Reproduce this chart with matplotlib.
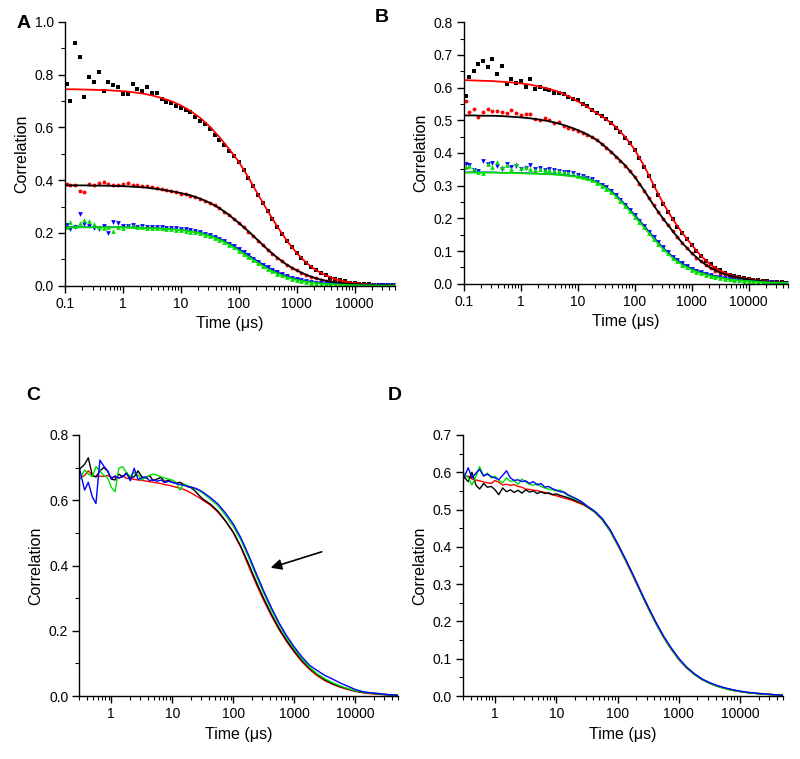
import matplotlib
matplotlib.use('Agg')
import matplotlib.pyplot as plt
from matplotlib.ticker import (FixedLocator, FixedFormatter, LogLocator,
                               MultipleLocator, FormatStrFormatter, NullFormatter)

plt.rcParams['font.family'] = ['Liberation Sans', 'DejaVu Sans']

# ---------------- shared time grids ----------------
t_ab = [0.11, 0.121, 0.147, 0.178, 0.215, 0.261, 0.316, 0.383, 0.464, 0.562, 0.681, 0.825,
        1.0, 1.21, 1.47, 1.78, 2.15, 2.61, 3.16, 3.83, 4.64, 5.62, 6.81, 8.25,
        10, 12.1, 14.7, 17.8, 21.5, 26.1, 31.6, 38.3, 46.4, 56.2, 68.1, 82.5,
        100, 121, 147, 178, 215, 261, 316, 383, 464, 562, 681, 825,
        1000, 1210, 1470, 1780, 2150, 2610, 3160, 3830, 4640, 5620, 6810, 8250,
        10000, 12100, 14700, 17800, 21500, 26100, 31600, 38300, 46400]

t_fit = [0.1, 0.147, 0.215, 0.316, 0.464, 0.681,
         1, 1.47, 2.15, 3.16, 4.64, 6.81,
         10, 14.7, 21.5, 31.6, 46.4, 68.1,
         100, 147, 215, 316, 464, 681,
         1000, 1470, 2150, 3160, 4640, 6810,
         10000, 14700, 21500, 31600, 50000]

t_cd = [0.3, 0.365, 0.42, 0.49, 0.56, 0.65, 0.75, 0.87,
        1.0, 1.15, 1.33, 1.54, 1.78, 2.05, 2.37, 2.74,
        3.16, 3.65, 4.22, 4.87, 5.62, 6.49, 7.5, 8.66,
        10, 11.5, 13.3, 15.4, 17.8, 20.5, 23.7, 27.4,
        31.6, 42.2, 56.2, 75, 100, 133, 178, 237,
        316, 422, 562, 750, 1000, 1330, 1780, 2370,
        3160, 4220, 5620, 7500, 10000, 13300, 17800, 23700,
        31600, 42200, 50000]

# ---------------- panel A data ----------------
a_black = [0.763, 0.700, 0.920, 0.865, 0.714, 0.790, 0.773, 0.808, 0.737, 0.773, 0.760, 0.754,
           0.726, 0.728, 0.763, 0.744, 0.738, 0.753, 0.729, 0.729, 0.707, 0.697, 0.692, 0.680,
           0.675, 0.665, 0.657, 0.640, 0.625, 0.612, 0.595, 0.572, 0.553, 0.532, 0.510, 0.490,
           0.467, 0.440, 0.408, 0.378, 0.344, 0.312, 0.282, 0.252, 0.223, 0.196, 0.169, 0.145,
           0.124, 0.104, 0.087, 0.072, 0.059, 0.048, 0.039, 0.031, 0.025, 0.020, 0.016, 0.012,
           0.010, 0.008, 0.006, 0.005, 0.004, 0.003, 0.004, 0.002, 0.003]
a_red = [0.385, 0.383, 0.381, 0.359, 0.355, 0.386, 0.383, 0.388, 0.392, 0.386, 0.383, 0.381,
         0.385, 0.388, 0.383, 0.380, 0.378, 0.377, 0.372, 0.371, 0.366, 0.362, 0.358, 0.354,
         0.349, 0.346, 0.341, 0.336, 0.329, 0.322, 0.313, 0.304, 0.293, 0.281, 0.267, 0.253,
         0.237, 0.222, 0.205, 0.188, 0.171, 0.153, 0.136, 0.120, 0.105, 0.092, 0.079, 0.068,
         0.058, 0.049, 0.041, 0.034, 0.028, 0.023, 0.019, 0.016, 0.013, 0.011, 0.009, 0.007,
         0.006, 0.005, 0.004, 0.003, 0.003, 0.002, 0.002, 0.001, 0.002]
a_blue = [0.230, 0.213, 0.222, 0.272, 0.232, 0.228, 0.218, 0.214, 0.226, 0.198, 0.242, 0.238,
          0.226, 0.225, 0.229, 0.222, 0.225, 0.221, 0.224, 0.222, 0.224, 0.219, 0.220, 0.217,
          0.216, 0.213, 0.210, 0.206, 0.202, 0.197, 0.191, 0.185, 0.177, 0.169, 0.159, 0.149,
          0.138, 0.127, 0.115, 0.103, 0.091, 0.080, 0.069, 0.060, 0.051, 0.043, 0.036, 0.030,
          0.025, 0.021, 0.017, 0.014, 0.012, 0.010, 0.008, 0.007, 0.006, 0.005, 0.004, 0.004,
          0.003, 0.003, 0.002, 0.002, 0.001, 0.002, 0.001, 0.002, 0.003]
a_green = [0.222, 0.242, 0.228, 0.236, 0.249, 0.245, 0.232, 0.222, 0.218, 0.224, 0.208, 0.222,
           0.219, 0.226, 0.228, 0.223, 0.221, 0.219, 0.220, 0.218, 0.217, 0.216, 0.214, 0.212,
           0.210, 0.208, 0.205, 0.202, 0.198, 0.193, 0.188, 0.181, 0.174, 0.165, 0.155, 0.145,
           0.133, 0.121, 0.109, 0.097, 0.085, 0.074, 0.064, 0.055, 0.046, 0.039, 0.032, 0.027,
           0.022, 0.018, 0.015, 0.012, 0.010, 0.008, 0.007, 0.005, 0.004, 0.004, 0.003, 0.002,
           0.002, 0.002, 0.001, 0.001, 0.001, 0.001, 0.000, 0.001, 0.001]
a_fit_upper = [0.744, 0.744, 0.743, 0.742, 0.741, 0.739,
               0.737, 0.733, 0.728, 0.721, 0.711, 0.699,
               0.683, 0.662, 0.636, 0.603, 0.563, 0.518,
               0.470, 0.410, 0.346, 0.283, 0.224, 0.170,
               0.124, 0.087, 0.059, 0.039, 0.025, 0.016,
               0.010, 0.006, 0.004, 0.002, 0.001]
a_fit_middle = [0.380, 0.380, 0.380, 0.379, 0.379, 0.378,
                0.377, 0.375, 0.373, 0.369, 0.364, 0.358,
                0.351, 0.342, 0.330, 0.314, 0.294, 0.268,
                0.238, 0.206, 0.172, 0.137, 0.106, 0.079,
                0.058, 0.041, 0.028, 0.019, 0.013, 0.009,
                0.006, 0.004, 0.003, 0.002, 0.001]
a_fit_green = [0.221, 0.221, 0.221, 0.221, 0.221, 0.221,
               0.221, 0.220, 0.219, 0.218, 0.216, 0.214,
               0.211, 0.206, 0.199, 0.189, 0.175, 0.156,
               0.134, 0.110, 0.086, 0.064, 0.046, 0.032,
               0.022, 0.015, 0.010, 0.007, 0.005, 0.003,
               0.002, 0.001, 0.001, 0.000, 0.000]
a_fit_blue = [0.222, 0.222, 0.222, 0.222, 0.222, 0.222,
              0.222, 0.221, 0.220, 0.219, 0.217, 0.215,
              0.212, 0.207, 0.201, 0.191, 0.178, 0.160,
              0.139, 0.116, 0.092, 0.070, 0.051, 0.036,
              0.025, 0.017, 0.012, 0.008, 0.006, 0.004,
              0.003, 0.002, 0.001, 0.001, 0.000]

# ---------------- panel B data ----------------
b_black = [0.574, 0.632, 0.652, 0.672, 0.682, 0.662, 0.687, 0.641, 0.666, 0.611, 0.626, 0.613,
           0.620, 0.603, 0.626, 0.597, 0.603, 0.595, 0.592, 0.585, 0.583, 0.580, 0.572, 0.565,
           0.561, 0.550, 0.543, 0.532, 0.522, 0.513, 0.503, 0.493, 0.478, 0.464, 0.447, 0.430,
           0.408, 0.385, 0.358, 0.330, 0.300, 0.272, 0.245, 0.220, 0.197, 0.175, 0.155, 0.136,
           0.118, 0.101, 0.085, 0.071, 0.059, 0.049, 0.041, 0.034, 0.028, 0.024, 0.020, 0.017,
           0.015, 0.012, 0.010, 0.009, 0.007, 0.006, 0.004, 0.005, 0.003]
b_red = [0.560, 0.525, 0.535, 0.510, 0.525, 0.535, 0.528, 0.530, 0.525, 0.523, 0.532, 0.523,
         0.517, 0.520, 0.520, 0.505, 0.500, 0.507, 0.500, 0.492, 0.495, 0.484, 0.478, 0.472,
         0.466, 0.462, 0.455, 0.448, 0.439, 0.428, 0.416, 0.404, 0.389, 0.376, 0.361, 0.345,
         0.326, 0.306, 0.284, 0.262, 0.240, 0.219, 0.198, 0.179, 0.160, 0.142, 0.125, 0.109,
         0.094, 0.080, 0.068, 0.057, 0.048, 0.040, 0.034, 0.029, 0.025, 0.021, 0.018, 0.015,
         0.013, 0.011, 0.009, 0.008, 0.006, 0.005, 0.004, 0.004, 0.003]
b_blue = [0.366, 0.362, 0.349, 0.346, 0.377, 0.366, 0.368, 0.360, 0.350, 0.365, 0.357, 0.360,
          0.352, 0.355, 0.362, 0.351, 0.353, 0.349, 0.350, 0.347, 0.346, 0.343, 0.341, 0.338,
          0.334, 0.330, 0.325, 0.319, 0.312, 0.303, 0.295, 0.284, 0.271, 0.257, 0.242, 0.226,
          0.209, 0.192, 0.176, 0.159, 0.143, 0.127, 0.111, 0.097, 0.083, 0.072, 0.062, 0.053,
          0.046, 0.040, 0.035, 0.030, 0.026, 0.022, 0.019, 0.016, 0.014, 0.012, 0.010, 0.009,
          0.008, 0.007, 0.006, 0.005, 0.004, 0.004, 0.003, 0.003, 0.002]
b_green = [0.358, 0.360, 0.352, 0.343, 0.338, 0.365, 0.356, 0.372, 0.358, 0.362, 0.352, 0.365,
           0.354, 0.358, 0.352, 0.349, 0.350, 0.348, 0.347, 0.345, 0.344, 0.341, 0.338, 0.335,
           0.331, 0.327, 0.322, 0.316, 0.309, 0.300, 0.291, 0.280, 0.267, 0.253, 0.238, 0.222,
           0.205, 0.188, 0.172, 0.155, 0.138, 0.122, 0.107, 0.093, 0.080, 0.068, 0.058, 0.050,
           0.043, 0.037, 0.032, 0.027, 0.024, 0.020, 0.018, 0.015, 0.013, 0.011, 0.010, 0.009,
           0.008, 0.007, 0.006, 0.005, 0.004, 0.003, 0.003, 0.002, 0.002]
b_fit_upper = [0.623, 0.622, 0.621, 0.620, 0.618, 0.616,
               0.613, 0.609, 0.603, 0.596, 0.587, 0.574,
               0.558, 0.541, 0.522, 0.503, 0.480, 0.449,
               0.410, 0.360, 0.302, 0.246, 0.198, 0.156,
               0.119, 0.085, 0.058, 0.040, 0.028, 0.020,
               0.015, 0.010, 0.007, 0.004, 0.003]
b_fit_middle = [0.515, 0.515, 0.514, 0.514, 0.513, 0.511,
                0.509, 0.506, 0.502, 0.497, 0.490, 0.481,
                0.470, 0.457, 0.440, 0.417, 0.390, 0.362,
                0.327, 0.285, 0.240, 0.199, 0.161, 0.125,
                0.094, 0.068, 0.048, 0.034, 0.025, 0.018,
                0.013, 0.009, 0.006, 0.004, 0.003]
b_fit_green = [0.340, 0.340, 0.340, 0.340, 0.339, 0.339,
               0.338, 0.337, 0.336, 0.335, 0.333, 0.330,
               0.327, 0.321, 0.310, 0.293, 0.268, 0.238,
               0.206, 0.172, 0.138, 0.106, 0.079, 0.058,
               0.043, 0.032, 0.024, 0.018, 0.013, 0.010,
               0.008, 0.006, 0.004, 0.003, 0.002]
b_fit_blue = [0.341, 0.341, 0.341, 0.341, 0.340, 0.340,
              0.339, 0.338, 0.337, 0.336, 0.334, 0.331,
              0.328, 0.322, 0.312, 0.296, 0.272, 0.243,
              0.211, 0.177, 0.143, 0.110, 0.083, 0.062,
              0.046, 0.035, 0.026, 0.020, 0.015, 0.011,
              0.009, 0.007, 0.005, 0.003, 0.002]

# ---------------- panel C data ----------------
c_red = [0.668, 0.676, 0.690, 0.676, 0.672, 0.674, 0.673, 0.676,
         0.671, 0.670, 0.668, 0.675, 0.667, 0.666, 0.664, 0.662,
         0.661, 0.659, 0.657, 0.655, 0.653, 0.651, 0.648, 0.646,
         0.643, 0.640, 0.637, 0.633, 0.628, 0.622, 0.615, 0.608,
         0.600, 0.585, 0.563, 0.535, 0.500, 0.455, 0.398, 0.343,
         0.292, 0.245, 0.203, 0.166, 0.134, 0.105, 0.081, 0.062,
         0.047, 0.036, 0.027, 0.020, 0.014, 0.010, 0.007, 0.005,
         0.004, 0.003, 0.002]
c_black = [0.695, 0.710, 0.730, 0.675, 0.672, 0.690, 0.700, 0.690,
           0.665, 0.662, 0.680, 0.672, 0.685, 0.668, 0.672, 0.690,
           0.672, 0.668, 0.676, 0.660, 0.665, 0.670, 0.657, 0.662,
           0.655, 0.652, 0.655, 0.648, 0.642, 0.638, 0.628, 0.615,
           0.604, 0.588, 0.566, 0.536, 0.502, 0.458, 0.405, 0.350,
           0.298, 0.250, 0.207, 0.170, 0.138, 0.109, 0.085, 0.066,
           0.050, 0.038, 0.029, 0.022, 0.015, 0.011, 0.009, 0.006,
           0.004, 0.003, 0.002]
c_green = [0.662, 0.693, 0.680, 0.672, 0.703, 0.690, 0.677, 0.668,
           0.640, 0.626, 0.698, 0.703, 0.683, 0.673, 0.685, 0.678,
           0.662, 0.670, 0.676, 0.680, 0.677, 0.672, 0.668, 0.665,
           0.662, 0.655, 0.631, 0.650, 0.645, 0.640, 0.635, 0.630,
           0.622, 0.603, 0.583, 0.553, 0.520, 0.478, 0.425, 0.368,
           0.314, 0.263, 0.218, 0.178, 0.144, 0.114, 0.088, 0.068,
           0.053, 0.041, 0.031, 0.023, 0.016, 0.012, 0.009, 0.007,
           0.005, 0.003, 0.002]
c_blue = [0.698, 0.631, 0.655, 0.610, 0.590, 0.723, 0.705, 0.690,
          0.665, 0.675, 0.668, 0.672, 0.682, 0.660, 0.698, 0.664,
          0.668, 0.672, 0.660, 0.663, 0.658, 0.662, 0.654, 0.658,
          0.655, 0.652, 0.648, 0.646, 0.642, 0.640, 0.637, 0.632,
          0.625, 0.608, 0.588, 0.560, 0.527, 0.485, 0.432, 0.376,
          0.321, 0.270, 0.224, 0.184, 0.150, 0.120, 0.094, 0.078,
          0.063, 0.052, 0.040, 0.030, 0.020, 0.013, 0.010, 0.008,
          0.005, 0.003, 0.002]

# ---------------- panel D data ----------------
d_red = [0.585, 0.590, 0.582, 0.579, 0.577, 0.574, 0.572, 0.570,
         0.578, 0.573, 0.566, 0.568, 0.565, 0.567, 0.562, 0.560,
         0.555, 0.554, 0.552, 0.551, 0.548, 0.546, 0.543, 0.540,
         0.537, 0.534, 0.531, 0.528, 0.525, 0.521, 0.517, 0.513,
         0.507, 0.493, 0.472, 0.443, 0.405, 0.365, 0.322, 0.278,
         0.235, 0.194, 0.157, 0.125, 0.097, 0.075, 0.058, 0.044,
         0.034, 0.026, 0.020, 0.015, 0.012, 0.009, 0.007, 0.005,
         0.004, 0.003, 0.002]
d_black = [0.590, 0.575, 0.600, 0.565, 0.555, 0.570, 0.560, 0.562,
           0.553, 0.540, 0.558, 0.548, 0.553, 0.546, 0.552, 0.544,
           0.553, 0.547, 0.550, 0.543, 0.548, 0.543, 0.545, 0.540,
           0.542, 0.538, 0.535, 0.532, 0.528, 0.524, 0.520, 0.515,
           0.508, 0.494, 0.474, 0.445, 0.407, 0.367, 0.324, 0.280,
           0.237, 0.196, 0.159, 0.127, 0.099, 0.077, 0.059, 0.045,
           0.035, 0.027, 0.021, 0.016, 0.012, 0.009, 0.007, 0.005,
           0.004, 0.003, 0.002]
d_green = [0.600, 0.585, 0.566, 0.590, 0.615, 0.590, 0.598, 0.585,
           0.590, 0.578, 0.572, 0.585, 0.575, 0.578, 0.568, 0.582,
           0.574, 0.568, 0.565, 0.570, 0.562, 0.558, 0.555, 0.553,
           0.550, 0.553, 0.545, 0.538, 0.533, 0.528, 0.523, 0.517,
           0.509, 0.494, 0.473, 0.444, 0.406, 0.366, 0.323, 0.279,
           0.236, 0.195, 0.158, 0.126, 0.098, 0.076, 0.058, 0.044,
           0.034, 0.026, 0.020, 0.015, 0.012, 0.009, 0.007, 0.005,
           0.004, 0.003, 0.002]
d_blue = [0.580, 0.612, 0.585, 0.598, 0.608, 0.590, 0.595, 0.588,
          0.585, 0.580, 0.592, 0.604, 0.585, 0.578, 0.580, 0.575,
          0.577, 0.570, 0.575, 0.566, 0.570, 0.560, 0.562, 0.556,
          0.552, 0.548, 0.547, 0.540, 0.535, 0.530, 0.525, 0.518,
          0.510, 0.496, 0.476, 0.447, 0.409, 0.369, 0.326, 0.282,
          0.239, 0.198, 0.161, 0.129, 0.101, 0.078, 0.060, 0.046,
          0.036, 0.028, 0.022, 0.017, 0.013, 0.010, 0.008, 0.006,
          0.004, 0.003, 0.002]

# ---------------- axis tick labels ----------------
xticks_ab = [0.1, 1, 10, 100, 1000, 10000]
xticklabels_ab = ['0.1', '1', '10', '100', '1000', '10000']
xticks_cd = [1, 10, 100, 1000, 10000]
xticklabels_cd = ['1', '10', '100', '1000', '10000']

RED = '#ff0000'
GREEN = '#00e000'
BLUE = '#0000ff'
BLACK = '#000000'

fig = plt.figure(figsize=(8, 7.59), dpi=100)


def style(ax, xlim, ylim, ymajor, xt, xtl):
    ax.set_xscale('log')
    ax.set_xlim(*xlim)
    ax.set_ylim(*ylim)
    for s in ['top', 'right']:
        ax.spines[s].set_visible(False)
    for s in ['left', 'bottom']:
        ax.spines[s].set_linewidth(1.0)
    ax.xaxis.set_major_locator(FixedLocator(xt))
    ax.xaxis.set_major_formatter(FixedFormatter(xtl))
    ax.xaxis.set_minor_locator(LogLocator(base=10, subs=range(2, 10), numticks=60))
    ax.xaxis.set_minor_formatter(NullFormatter())
    ax.yaxis.set_major_locator(MultipleLocator(ymajor))
    ax.yaxis.set_minor_locator(MultipleLocator(ymajor / 2))
    ax.yaxis.set_major_formatter(FormatStrFormatter('%.1f'))
    ax.tick_params(which='major', direction='out', length=5, width=1.0,
                   labelsize=10, pad=3)
    ax.tick_params(which='minor', direction='out', length=3, width=0.8)
    ax.set_xlabel('Time (μs)', fontsize=11.5, labelpad=4)
    ax.set_ylabel('Correlation', fontsize=11.5, labelpad=4)


def scatter_panel(ax, black, red, blue, green):
    ax.plot(t_ab, black, ls='none', marker='s', ms=2.6, mew=0, color=BLACK)
    ax.plot(t_ab, red, ls='none', marker='o', ms=2.8, mew=0, color=RED)
    ax.plot(t_ab, blue, ls='none', marker='v', ms=3.4, mew=0, color=BLUE)
    ax.plot(t_ab, green, ls='none', marker='^', ms=3.4, mew=0, color=GREEN)


# ---- Panel A ----
axA = fig.add_axes([65 / 800, 1 - 285.7 / 759, 330 / 800, 264 / 759])
scatter_panel(axA, a_black, a_red, a_blue, a_green)
axA.plot(t_fit, a_fit_upper, color=RED, lw=1.3)
axA.plot(t_fit, a_fit_middle, color=BLACK, lw=1.3)
axA.plot(t_fit, a_fit_blue, color=BLUE, lw=1.0)
axA.plot(t_fit, a_fit_green, color=GREEN, lw=1.3)
style(axA, (0.1, 5e4), (0, 1.0), 0.2, xticks_ab, xticklabels_ab)

# ---- Panel B ----
axB = fig.add_axes([464 / 800, 1 - 283.7 / 759, 324.3 / 800, 261.4 / 759])
scatter_panel(axB, b_black, b_red, b_blue, b_green)
axB.plot(t_fit, b_fit_upper, color=RED, lw=1.3)
axB.plot(t_fit, b_fit_middle, color=BLACK, lw=1.3)
axB.plot(t_fit, b_fit_blue, color=BLUE, lw=1.0)
axB.plot(t_fit, b_fit_green, color=GREEN, lw=1.3)
style(axB, (0.1, 5e4), (0, 0.8), 0.1, xticks_ab, xticklabels_ab)

# ---- Panel C ----
axC = fig.add_axes([79.4 / 800, 1 - 696 / 759, 318.6 / 800, 261 / 759])
axC.plot(t_cd, c_red, color=RED, lw=1.0)
axC.plot(t_cd, c_black, color=BLACK, lw=1.0)
axC.plot(t_cd, c_green, color=GREEN, lw=1.0)
axC.plot(t_cd, c_blue, color=BLUE, lw=1.0)
style(axC, (0.3, 5e4), (0, 0.8), 0.2, xticks_cd, xticklabels_cd)
axC.annotate('', xy=(410, 0.393), xytext=(2810, 0.442),
             arrowprops=dict(arrowstyle='-|>', color='black', lw=1.2,
                             mutation_scale=16, shrinkA=0, shrinkB=0))

# ---- Panel D ----
axD = fig.add_axes([463 / 800, 1 - 696 / 759, 320 / 800, 261 / 759])
axD.plot(t_cd, d_red, color=RED, lw=1.0)
axD.plot(t_cd, d_black, color=BLACK, lw=1.0)
axD.plot(t_cd, d_green, color=GREEN, lw=1.0)
axD.plot(t_cd, d_blue, color=BLUE, lw=1.0)
style(axD, (0.3, 5e4), (0, 0.7), 0.1, xticks_cd, xticklabels_cd)

# ---- panel letters ----
for lab, x, y in [('A', 23.7, 23.7), ('B', 382, 18), ('C', 33, 395), ('D', 395, 395)]:
    fig.text(x / 800, 1 - y / 759, lab, fontsize=14, fontweight='bold',
             ha='center', va='center')

fig.savefig('out.png', dpi=100)
